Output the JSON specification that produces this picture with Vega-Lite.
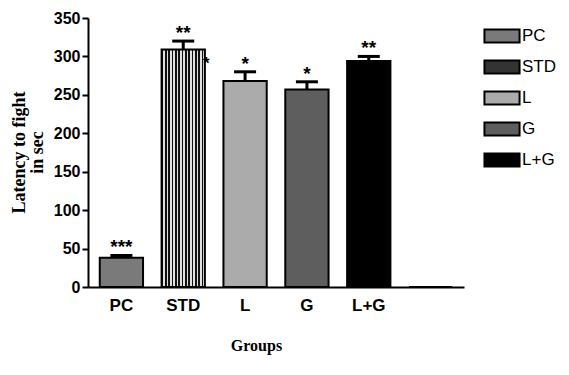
{
  "$schema": "https://vega.github.io/schema/vega-lite/v6.json",
  "width": 376,
  "height": 269,
  "autosize": {"type": "none"},
  "padding": {"left": 88, "top": 18, "right": 105, "bottom": 88},
  "background": "white",
  "config": {
    "view": {"stroke": null},
    "font": "Liberation Sans",
    "axisY": {
      "tickCount": 8,
      "labelOverlap": false,
      "labelFont": "Liberation Sans",
      "labelFontSize": 16,
      "labelFontWeight": "bold",
      "labelColor": "black",
      "labelPadding": 2,
      "tickColor": "black",
      "tickSize": 6,
      "tickWidth": 2,
      "domainColor": "black",
      "domainWidth": 2,
      "grid": false
    }
  },
  "data": {
    "values": [
      {"group": "PC", "value": 38, "upper": 41, "stars": "***", "note": ""},
      {"group": "STD", "value": 309, "upper": 320, "stars": "**", "note": "*"},
      {"group": "L", "value": 268, "upper": 280, "stars": "*", "note": ""},
      {"group": "G", "value": 257, "upper": 267, "stars": "*", "note": ""},
      {"group": "L+G", "value": 294, "upper": 300, "stars": "**", "note": ""},
      {"group": " ", "value": 0, "upper": 0, "stars": "", "note": ""}
    ]
  },
  "encoding": {
    "x": {
      "field": "group",
      "type": "nominal",
      "sort": null,
      "scale": {"paddingInner": 0.3, "paddingOuter": 0.19},
      "axis": {
        "title": "Groups",
        "titleFont": "Liberation Serif",
        "titleFontSize": 16,
        "titleFontWeight": "bold",
        "titleX": 168,
        "titleY": 50,
        "titleBaseline": "top",
        "labelAngle": 0,
        "labelFont": "Liberation Sans",
        "labelFontSize": 17,
        "labelFontWeight": "bold",
        "labelColor": "black",
        "labelPadding": 10,
        "ticks": false,
        "domainColor": "black",
        "domainWidth": 2
      }
    }
  },
  "layer": [
    {
      "mark": {"type": "bar", "stroke": "black", "strokeWidth": 2},
      "encoding": {
        "y": {
          "field": "value",
          "type": "quantitative",
          "scale": {"domain": [0, 350], "nice": false},
          "axis": {
            "title": ["Latency to fight", "in sec"],
            "titleFont": "Liberation Serif",
            "titleFontSize": 18,
            "titleFontWeight": "bold",
            "titleColor": "black",
            "titleX": -60,
            "titleY": 134,
            "titleAngle": -90,
            "titleBaseline": "bottom",
            "titleAlign": "center",
            "titleLineHeight": 18,
            "values": [0, 50, 100, 150, 200, 250, 300, 350],
            "tickCount": 8,
            "labelOverlap": false
          }
        },
        "fill": {
          "field": "group",
          "type": "nominal",
          "sort": null,
          "scale": {
            "domain": ["PC", "STD", "L", "G", "L+G", " "],
            "range": ["#7a7a7a", "#333333", "#ababab", "#5e5e5e", "#000000", "#000000"]
          },
          "legend": {
            "values": ["PC", "STD", "L", "G", "L+G"],
            "title": null,
            "orient": "none",
            "legendX": 400,
            "legendY": 4,
            "symbolType": "M-1.35,-0.5H1.35V0.5H-1.35Z",
            "symbolSize": 676,
            "symbolStrokeColor": "black",
            "symbolStrokeWidth": 2,
            "rowPadding": 6,
            "labelFont": "Liberation Sans",
            "labelFontSize": 17,
            "labelColor": "black",
            "labelOffset": 6
          },
          "condition": {
            "test": "datum.group === 'STD'",
            "value": {"gradient": "linear", "x1": 0, "y1": 0, "x2": 1, "y2": 0, "stops": [
              {"offset": 0, "color": "#111"}, {"offset": 0.0423, "color": "#111"}, {"offset": 0.0423, "color": "#e0e0e0"}, {"offset": 0.0769, "color": "#e0e0e0"},
              {"offset": 0.0769, "color": "#111"}, {"offset": 0.1192, "color": "#111"}, {"offset": 0.1192, "color": "#e0e0e0"}, {"offset": 0.1538, "color": "#e0e0e0"},
              {"offset": 0.1538, "color": "#111"}, {"offset": 0.1962, "color": "#111"}, {"offset": 0.1962, "color": "#e0e0e0"}, {"offset": 0.2308, "color": "#e0e0e0"},
              {"offset": 0.2308, "color": "#111"}, {"offset": 0.2731, "color": "#111"}, {"offset": 0.2731, "color": "#e0e0e0"}, {"offset": 0.3077, "color": "#e0e0e0"},
              {"offset": 0.3077, "color": "#111"}, {"offset": 0.35, "color": "#111"}, {"offset": 0.35, "color": "#e0e0e0"}, {"offset": 0.3846, "color": "#e0e0e0"},
              {"offset": 0.3846, "color": "#111"}, {"offset": 0.4269, "color": "#111"}, {"offset": 0.4269, "color": "#e0e0e0"}, {"offset": 0.4615, "color": "#e0e0e0"},
              {"offset": 0.4615, "color": "#111"}, {"offset": 0.5038, "color": "#111"}, {"offset": 0.5038, "color": "#e0e0e0"}, {"offset": 0.5385, "color": "#e0e0e0"},
              {"offset": 0.5385, "color": "#111"}, {"offset": 0.5808, "color": "#111"}, {"offset": 0.5808, "color": "#e0e0e0"}, {"offset": 0.6154, "color": "#e0e0e0"},
              {"offset": 0.6154, "color": "#111"}, {"offset": 0.6577, "color": "#111"}, {"offset": 0.6577, "color": "#e0e0e0"}, {"offset": 0.6923, "color": "#e0e0e0"},
              {"offset": 0.6923, "color": "#111"}, {"offset": 0.7346, "color": "#111"}, {"offset": 0.7346, "color": "#e0e0e0"}, {"offset": 0.7692, "color": "#e0e0e0"},
              {"offset": 0.7692, "color": "#111"}, {"offset": 0.8115, "color": "#111"}, {"offset": 0.8115, "color": "#e0e0e0"}, {"offset": 0.8462, "color": "#e0e0e0"},
              {"offset": 0.8462, "color": "#111"}, {"offset": 0.8885, "color": "#111"}, {"offset": 0.8885, "color": "#e0e0e0"}, {"offset": 0.9231, "color": "#e0e0e0"},
              {"offset": 0.9231, "color": "#111"}, {"offset": 0.9654, "color": "#111"}, {"offset": 0.9654, "color": "#e0e0e0"}, {"offset": 1, "color": "#e0e0e0"}
            ]}
          }
        }
      }
    },
    {
      "mark": {"type": "rule", "stroke": "black", "strokeWidth": 3},
      "encoding": {
        "y": {"field": "value", "type": "quantitative", "axis": {"values": [0, 50, 100, 150, 200, 250, 300, 350], "tickCount": 8, "labelOverlap": false}},
        "y2": {"field": "upper"}
      }
    },
    {
      "mark": {"type": "tick", "color": "black", "size": 22, "thickness": 3, "opacity": 1},
      "transform": [{"filter": "datum.upper > 0"}],
      "encoding": {
        "y": {"field": "upper", "type": "quantitative", "axis": {"values": [0, 50, 100, 150, 200, 250, 300, 350], "tickCount": 8, "labelOverlap": false}}
      }
    },
    {
      "mark": {"type": "text", "font": "Liberation Sans", "fontSize": 19, "fontWeight": "bold", "baseline": "alphabetic", "dy": -2, "color": "black"},
      "encoding": {
        "y": {"field": "upper", "type": "quantitative", "axis": {"values": [0, 50, 100, 150, 200, 250, 300, 350], "tickCount": 8, "labelOverlap": false}},
        "text": {"field": "stars"}
      }
    },
    {
      "mark": {"type": "text", "font": "Liberation Sans", "fontSize": 17, "fontWeight": "bold", "baseline": "alphabetic", "dx": 23, "dy": 19, "color": "black"},
      "encoding": {
        "y": {"field": "value", "type": "quantitative", "axis": {"values": [0, 50, 100, 150, 200, 250, 300, 350], "tickCount": 8, "labelOverlap": false}},
        "text": {"field": "note"}
      }
    }
  ]
}
